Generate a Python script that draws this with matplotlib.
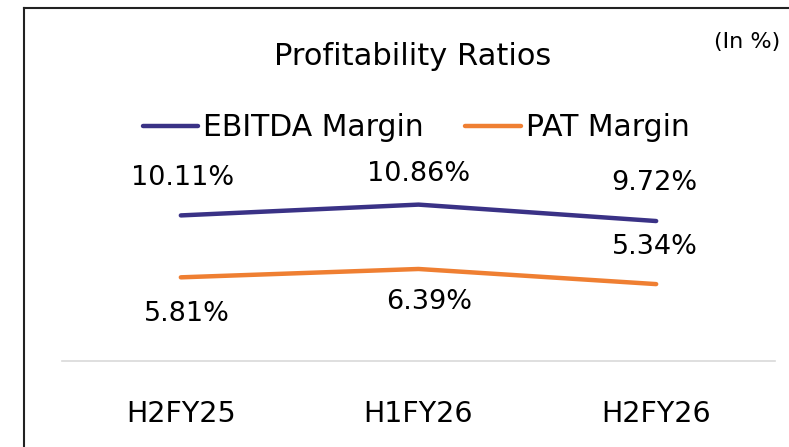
import matplotlib
matplotlib.use("Agg")
import matplotlib.pyplot as plt
from matplotlib.lines import Line2D

plt.rcParams['font.family'] = ['DejaVu Sans']

categories = ["H2FY25", "H1FY26", "H2FY26"]
ebitda = [10.11, 10.86, 9.72]
pat = [5.81, 6.39, 5.34]
title = "Profitability Ratios"
unit_note = "(In %)"

c_ebitda = "#3A3286"
c_pat = "#EF7F32"

fig = plt.figure(figsize=(7.89, 4.47), dpi=100)
W, H = 789, 447
ax = fig.add_axes([62 / W, 1 - 361 / H, (775 - 62) / W, (361 - 188.2) / H])

x = list(range(len(categories)))
ax.plot(x, ebitda, color=c_ebitda, lw=3.2, solid_capstyle='round', solid_joinstyle='round', label="EBITDA Margin")
ax.plot(x, pat, color=c_pat, lw=3.2, solid_capstyle='round', solid_joinstyle='round', label="PAT Margin")

ax.set_xlim(-0.5, 2.5)
ax.set_ylim(0, 12)
for s in ['top', 'right', 'left']:
    ax.spines[s].set_visible(False)
ax.spines['bottom'].set_color('#D9D9D9')
ax.spines['bottom'].set_linewidth(1.2)
ax.set_yticks([])
ax.set_xticks(x)
ax.set_xticklabels(categories, fontsize=20.5)
ax.tick_params(axis='x', length=0, pad=28)

fs = 19.5
ebitda_off = [(1, 21.8), (0, 16.7), (-1, 22.3)]
pat_off = [(4.5, -31.7), (7.5, -29), (-1, 22)]
for i, v in enumerate(ebitda):
    ax.annotate(f"{v:.2f}%", (x[i], v), xytext=ebitda_off[i], textcoords='offset points',
                ha='center', va='baseline', fontsize=fs, color='black')
for i, v in enumerate(pat):
    ax.annotate(f"{v:.2f}%", (x[i], v), xytext=pat_off[i], textcoords='offset points',
                ha='center', va='baseline', fontsize=fs, color='black')

fig.text(413 / W, 1 - 65 / H, title, ha='center', va='baseline', fontsize=22)
fig.text(747 / W, 1 - 48 / H, unit_note, ha='center', va='baseline', fontsize=16)

leg = fig.legend(loc='center', bbox_to_anchor=(416 / W, 1 - 128 / H), ncol=2, frameon=False,
                 fontsize=21.5, handlelength=1.85, handletextpad=0.17, columnspacing=1.4,
                 borderpad=0, borderaxespad=0)
for h in leg.get_lines():
    h.set_linewidth(3.2)
    h.set_solid_capstyle('round')

# outer frame (left and top edges)
fig.add_artist(Line2D([24 / W, 24 / W], [0, 1 - 8 / H], transform=fig.transFigure, color='#222222', lw=1.5))
fig.add_artist(Line2D([24 / W, 1], [1 - 8 / H, 1 - 8 / H], transform=fig.transFigure, color='#222222', lw=1.5))

fig.savefig("out.png", dpi=100)
